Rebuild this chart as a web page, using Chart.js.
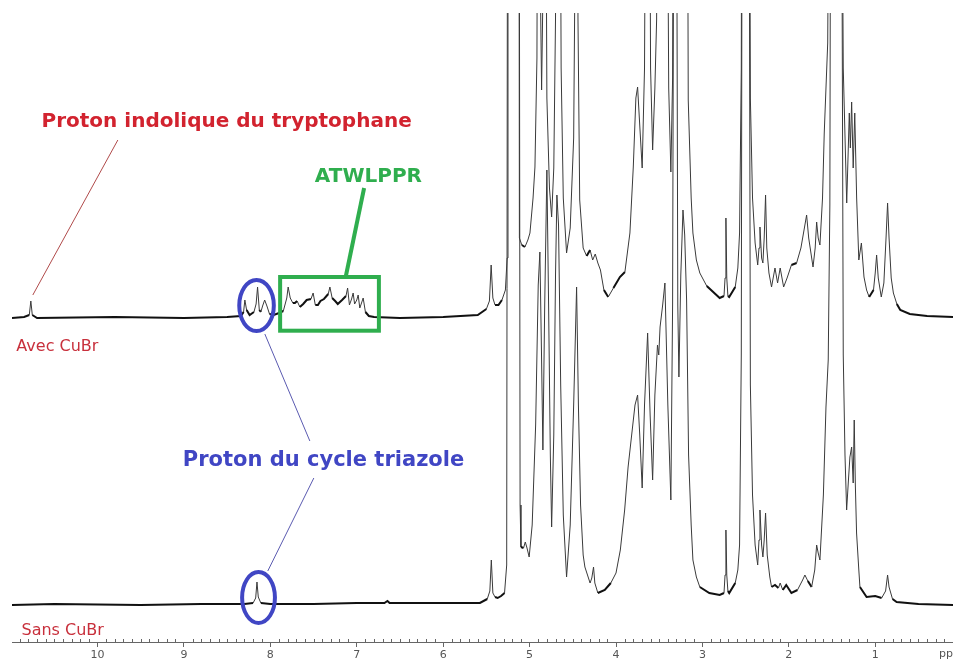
<!DOCTYPE html>
<html>
<head>
<meta charset="utf-8">
<script src="https://cdn.jsdelivr.net/npm/chart.js@4.4.0/dist/chart.umd.min.js"></script>
<style>
  html, body { margin: 0; padding: 0; background: #fff; }
  #wrap { width: 953px; height: 660px; }
</style>
</head>
<body>
<div id="wrap"><canvas id="spectre" width="953" height="660"></canvas></div>
<script>
// RMN 1H : [ppm, intensité au-dessus de la ligne de base]
const avecCuBr = [
  [10.99, 0], [10.85, 1], [10.79, 3], [10.772, 17], [10.755, 3], [10.70, 0], [9.80, 1], [9.00, 0],
  [8.50, 1], [8.34, 2], [8.31, 6], [8.295, 18], [8.275, 8], [8.24, 3], [8.19, 6], [8.165, 14],
  [8.148, 31], [8.128, 8], [8.11, 6], [8.09, 12], [8.066, 18], [8.04, 12], [8.01, 4], [7.96, 3],
  [7.90, 5], [7.85, 7], [7.81, 20], [7.794, 31], [7.77, 20], [7.74, 15], [7.716, 15], [7.69, 17],
  [7.659, 11], [7.62, 14], [7.58, 18], [7.53, 19], [7.505, 25], [7.48, 13], [7.45, 13], [7.42, 17],
  [7.38, 19], [7.33, 24], [7.311, 31], [7.285, 20], [7.25, 17], [7.22, 14], [7.17, 18], [7.125, 22],
  [7.106, 30], [7.085, 13], [7.06, 19], [7.042, 25], [7.025, 14], [7.00, 18], [6.984, 23], [6.965, 10],
  [6.945, 15], [6.926, 20], [6.90, 6], [6.86, 2], [6.80, 1], [6.50, 0], [6.00, 1], [5.60, 3],
  [5.50, 9], [5.465, 17], [5.445, 53], [5.425, 20], [5.40, 13], [5.36, 13], [5.32, 18], [5.28, 28],
  [5.26, 60], [5.25, 700], [5.125, 700], [5.118, 80], [5.09, 73], [5.054, 71], [5.02, 78], [4.996, 85],
  [4.96, 120], [4.938, 151], [4.915, 260], [4.90, 700], [4.875, 330], [4.861, 228], [4.845, 330], [4.823, 700],
  [4.80, 220], [4.77, 130], [4.745, 101], [4.72, 150], [4.70, 300], [4.687, 700], [4.655, 700], [4.635, 250],
  [4.61, 120], [4.572, 65], [4.53, 90], [4.49, 180], [4.47, 400], [4.456, 700], [4.44, 300], [4.42, 118],
  [4.38, 70], [4.34, 62], [4.30, 68], [4.27, 58], [4.24, 64], [4.21, 55], [4.18, 48], [4.14, 28],
  [4.09, 21], [4.03, 30], [3.955, 41], [3.897, 46], [3.839, 85], [3.80, 151], [3.77, 220], [3.75, 231],
  [3.73, 200], [3.697, 150], [3.67, 250], [3.645, 700], [3.62, 700], [3.60, 250], [3.576, 168], [3.55, 230],
  [3.53, 298], [3.51, 700], [3.42, 700], [3.39, 230], [3.365, 146], [3.345, 240], [3.33, 700], [3.18, 700],
  [3.164, 218], [3.13, 120], [3.11, 85], [3.07, 58], [3.03, 45], [2.95, 32], [2.90, 28], [2.80, 20],
  [2.75, 22], [2.738, 40], [2.728, 100], [2.718, 40], [2.705, 22], [2.69, 21], [2.62, 31], [2.59, 50],
  [2.57, 85], [2.55, 250], [2.54, 700], [2.46, 700], [2.445, 220], [2.42, 120], [2.39, 75], [2.36, 53],
  [2.345, 70], [2.334, 91], [2.315, 60], [2.30, 55], [2.285, 80], [2.269, 123], [2.255, 70], [2.23, 45],
  [2.20, 31], [2.16, 50], [2.13, 35], [2.10, 50], [2.06, 31], [2.02, 40], [1.97, 53], [1.91, 55],
  [1.86, 70], [1.82, 90], [1.794, 103], [1.77, 80], [1.72, 51], [1.695, 70], [1.678, 96], [1.66, 80],
  [1.64, 73], [1.61, 120], [1.59, 185], [1.55, 275], [1.52, 700], [1.40, 700], [1.37, 250], [1.33, 115],
  [1.30, 205], [1.288, 170], [1.273, 216], [1.255, 150], [1.237, 205], [1.215, 120], [1.19, 58], [1.16, 75],
  [1.13, 41], [1.10, 28], [1.07, 21], [1.02, 28], [1.00, 45], [0.984, 63], [0.965, 40], [0.93, 21],
  [0.90, 35], [0.875, 80], [0.857, 115], [0.84, 80], [0.815, 40], [0.79, 25], [0.75, 14], [0.71, 8],
  [0.60, 4], [0.40, 2], [0.10, 1]
];

const sansCuBr = [
  [10.99, 0], [10.50, 1], [9.50, 0], [8.80, 1], [8.30, 1], [8.20, 2], [8.17, 7], [8.155, 23],
  [8.14, 8], [8.11, 2], [8.00, 1], [7.50, 1], [7.00, 2], [6.68, 2], [6.645, 4], [6.62, 2],
  [6.20, 2], [5.80, 2], [5.575, 2], [5.49, 6], [5.46, 14], [5.443, 45], [5.425, 12], [5.40, 8],
  [5.37, 7], [5.33, 9], [5.29, 12], [5.265, 40], [5.255, 800], [5.12, 800], [5.11, 100], [5.10, 58],
  [5.07, 57], [5.05, 63], [5.03, 57], [5.005, 48], [4.97, 80], [4.93, 180], [4.90, 320], [4.881, 353],
  [4.862, 250], [4.846, 155], [4.825, 300], [4.80, 435], [4.78, 300], [4.76, 150], [4.745, 78], [4.72, 170],
  [4.70, 330], [4.684, 410], [4.665, 380], [4.64, 220], [4.61, 90], [4.572, 28], [4.53, 80], [4.49, 200],
  [4.456, 318], [4.435, 200], [4.41, 100], [4.38, 50], [4.36, 38], [4.33, 30], [4.30, 22], [4.28, 27],
  [4.26, 38], [4.245, 22], [4.21, 12], [4.13, 15], [4.06, 22], [4.00, 32], [3.95, 55], [3.90, 95],
  [3.86, 138], [3.78, 200], [3.75, 210], [3.725, 170], [3.697, 117], [3.67, 200], [3.634, 272], [3.605, 190],
  [3.576, 125], [3.55, 210], [3.52, 260], [3.505, 250], [3.49, 278], [3.46, 300], [3.434, 322], [3.40, 200],
  [3.365, 105], [3.345, 300], [3.33, 800], [3.30, 800], [3.285, 300], [3.272, 228], [3.25, 330], [3.225, 395],
  [3.205, 370], [3.183, 305], [3.16, 150], [3.13, 80], [3.11, 45], [3.07, 28], [3.03, 18], [2.92, 12],
  [2.80, 10], [2.75, 12], [2.738, 30], [2.728, 75], [2.718, 30], [2.705, 14], [2.69, 12], [2.62, 22],
  [2.59, 35], [2.57, 60], [2.55, 250], [2.54, 800], [2.46, 800], [2.445, 220], [2.42, 110], [2.39, 60],
  [2.36, 40], [2.345, 65], [2.334, 95], [2.315, 60], [2.30, 48], [2.285, 65], [2.269, 92], [2.25, 50],
  [2.22, 28], [2.20, 18], [2.16, 20], [2.12, 17], [2.10, 22], [2.07, 15], [2.03, 20], [1.97, 12],
  [1.90, 15], [1.84, 25], [1.814, 30], [1.78, 24], [1.736, 18], [1.70, 35], [1.678, 60], [1.66, 52],
  [1.64, 45], [1.60, 110], [1.57, 198], [1.544, 245], [1.525, 400], [1.516, 800], [1.39, 800], [1.37, 250],
  [1.35, 150], [1.331, 95], [1.31, 125], [1.293, 148], [1.273, 158], [1.255, 122], [1.243, 185], [1.23, 120],
  [1.216, 72], [1.19, 35], [1.177, 18], [1.10, 8], [1.00, 9], [0.926, 7], [0.88, 14], [0.857, 30],
  [0.84, 18], [0.80, 6], [0.752, 3], [0.50, 1], [0.10, 0]
];

const tickPpm = [10, 9, 8, 7, 6, 5, 4, 3, 2, 1];

// décalage vertical du spectre du haut
const offsetAvec = 287;

// trait plus épais sur les portions presque plates (bruit de la ligne de base)
const flat = (ctx) => {
  const dx = Math.abs(ctx.p1.parsed.x - ctx.p0.parsed.x);
  const dy = Math.abs(ctx.p1.parsed.y - ctx.p0.parsed.y);
  return dy / dx < 150;
};

function spectre(points, offset) {
  return {
    data: points.map(p => ({ x: p[0], y: p[1] + offset })),
    borderColor: '#1c1c1c',
    borderWidth: 1,
    pointRadius: 0,
    tension: 0,
    segment: {
      borderWidth: ctx => flat(ctx) ? 2 : 1,
      borderColor: ctx => flat(ctx) ? '#111' : '#3a3a3a'
    }
  };
}

const minorTicks = {
  id: 'minorTicks',
  afterDraw(chart) {
    const { ctx } = chart;
    const x = chart.scales.x;
    const base = x.top;
    ctx.save();
    ctx.strokeStyle = '#666';
    ctx.lineWidth = 1;
    ctx.beginPath();
    for (let i = 2; i < 110; i++) {
      if (i % 10 === 0) continue;
      const px = Math.round(x.getPixelForValue(i / 10)) + 0.5;
      ctx.moveTo(px, base - 3);
      ctx.lineTo(px, base);
    }
    ctx.stroke();
    ctx.fillStyle = '#555';
    ctx.font = '11px "DejaVu Sans"';
    ctx.textBaseline = 'top';
    ctx.fillText('ppm', x.right - 14, base + 7);
    ctx.restore();
  }
};

const annotations = {
  id: 'annotations',
  afterDatasetsDraw(chart) {
    const { ctx } = chart;
    const sx = chart.scales.x, sy = chart.scales.y;
    const px = v => sx.getPixelForValue(v);
    const py = v => sy.getPixelForValue(v);
    const line = (a, b, color, w) => {
      ctx.strokeStyle = color;
      ctx.lineWidth = w;
      ctx.beginPath();
      ctx.moveTo(px(a[0]), py(a[1]));
      ctx.lineTo(px(b[0]), py(b[1]));
      ctx.stroke();
    };
    const ellipse = (c, rx, ry, color) => {
      const cx = px(c[0]), cy = py(c[1]);
      ctx.strokeStyle = color;
      ctx.lineWidth = 4;
      ctx.beginPath();
      ctx.ellipse(cx, cy, Math.abs(px(c[0] - rx) - cx), Math.abs(py(c[1] + ry) - cy), 0, 0, Math.PI * 2);
      ctx.stroke();
    };
    const text = (s, pos, color, font) => {
      ctx.fillStyle = color;
      ctx.font = font;
      ctx.textBaseline = 'alphabetic';
      ctx.fillText(s, px(pos[0]), py(pos[1]));
    };

    ctx.save();
    const red = '#d2232f', green = '#2fae4e', blue = '#4046c4';

    text('Proton indolique du tryptophane', [10.648, 478], red, 'bold 20px "DejaVu Sans"');
    line([9.765, 465], [10.749, 310], '#b04a4a', 1);

    text('ATWLPPR', [7.485, 423], green, 'bold 20px "DejaVu Sans"');
    line([6.915, 417], [7.126, 329], green, 4);
    ctx.strokeStyle = green;
    ctx.lineWidth = 4;
    ctx.strokeRect(px(7.887), py(328), px(6.744) - px(7.887), py(274.3) - py(328));

    ellipse([8.160, 299.5], 0.20, 25.5, blue);
    ellipse([8.137, 7.5], 0.19, 25.5, blue);
    text('Proton du cycle triazole', [9.013, 139], blue, 'bold 21px "DejaVu Sans"');
    line([8.064, 271], [7.543, 164], '#5a5ab0', 1);
    line([7.497, 127], [8.030, 34], '#5a5ab0', 1);

    text('Avec CuBr', [10.94, 254], '#c8303c', '16px "DejaVu Sans"');
    text('Sans CuBr', [10.88, -30], '#c8303c', '16px "DejaVu Sans"');
    ctx.restore();
  }
};

new Chart(document.getElementById('spectre'), {
  type: 'line',
  data: {
    datasets: [spectre(avecCuBr, offsetAvec), spectre(sansCuBr, 0)]
  },
  options: {
    responsive: false,
    animation: false,
    events: [],
    layout: { padding: { top: 13, left: 12, right: 0, bottom: 0 } },
    plugins: { legend: { display: false }, tooltip: { enabled: false } },
    scales: {
      x: {
        type: 'linear',
        reverse: true,
        min: 0.10,
        max: 10.99,
        afterBuildTicks: s => { s.ticks = tickPpm.map(v => ({ value: v })); },
        afterFit: s => { s.height = 18; },
        border: { display: true, color: '#666', width: 1 },
        grid: { drawOnChartArea: false, drawTicks: true, tickLength: 5, tickColor: '#666' },
        ticks: {
          autoSkip: false,
          maxRotation: 0,
          padding: 2,
          color: '#555',
          font: { family: 'DejaVu Sans', size: 11 }
        }
      },
      y: { display: false, min: -37, max: 592 }
    }
  },
  plugins: [minorTicks, annotations]
});
</script>
</body>
</html>
